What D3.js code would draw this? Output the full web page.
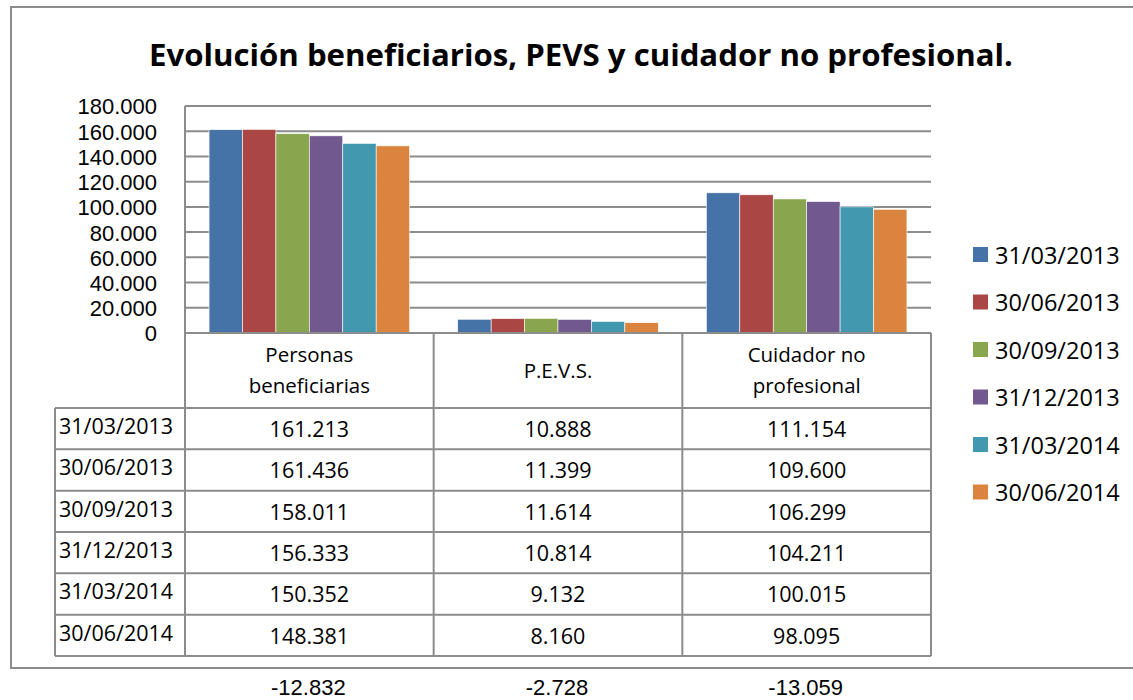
<!DOCTYPE html>
<html><head><meta charset="utf-8">
<script src="https://cdn.jsdelivr.net/npm/d3@7"></script>
<style>body{margin:0;background:#fff;} svg{display:block;font-family:"Open Sans",sans-serif;}</style>
</head><body><svg id="c" width="1133" height="700"></svg>
<script>
const title = "Evolución beneficiarios, PEVS y cuidador no profesional.";
const categories = ["Personas beneficiarias", "P.E.V.S.", "Cuidador no profesional"];
const categoryLines = [["Personas", "beneficiarias"], ["P.E.V.S."], ["Cuidador no", "profesional"]];
const seriesNames = ["31/03/2013", "30/06/2013", "30/09/2013", "31/12/2013", "31/03/2014", "30/06/2014"];
const s1 = [161213, 10888, 111154];
const s2 = [161436, 11399, 109600];
const s3 = [158011, 11614, 106299];
const s4 = [156333, 10814, 104211];
const s5 = [150352, 9132, 100015];
const s6 = [148381, 8160, 98095];
const seriesValues = [s1, s2, s3, s4, s5, s6];
const differences = [-12832, -2728, -13059];
const yTicks = [0, 20000, 40000, 60000, 80000, 100000, 120000, 140000, 160000, 180000];
const colors = ["#4572A7", "#AA4643", "#89A54E", "#71588F", "#4198AF", "#DB843D"];

(function () {
const loc = d3.formatLocale({decimal: ",", thousands: ".", grouping: [3], currency: ["", ""], minus: "-"});
const fmt = loc.format(",d");

const svg = d3.select("#c");
const grid = "#8c8c8c";

svg.append("rect").attr("x", 11).attr("y", 7).attr("width", 1140).attr("height", 661)
  .attr("fill", "#fff").attr("stroke", grid).attr("stroke-width", 2);

svg.append("text").attr("x", 581).attr("y", 66).attr("text-anchor", "middle")
  .attr("font-size", 30).attr("font-weight", "bold").attr("fill", "#000")
  .attr("textLength", 864).attr("lengthAdjust", "spacingAndGlyphs").text(title);

const pL = 185, pR = 931, pT = 106, pB = 333;
const y = d3.scaleLinear().domain([0, 180000]).range([pB, pT]);
const x0 = d3.scaleBand().domain(categories).range([pL, pR]).paddingInner(0).paddingOuter(0);
const x1 = d3.scaleBand().domain(seriesNames).range([0, x0.bandwidth()]).paddingOuter(0.72).paddingInner(0);

svg.append("g").selectAll("line").data(yTicks.filter(d => d > 0)).join("line")
  .attr("x1", pL).attr("x2", pR).attr("y1", d => y(d)).attr("y2", d => y(d))
  .attr("stroke", grid).attr("stroke-width", 2);
svg.append("line").attr("x1", pL).attr("x2", pL).attr("y1", pT).attr("y2", pB)
  .attr("stroke", grid).attr("stroke-width", 2);

const yAxis = d3.axisLeft(y).tickValues(yTicks).tickFormat(d => fmt(d)).tickSize(0).tickPadding(0);
const ga = svg.append("g").attr("transform", "translate(157,0)").call(yAxis);
ga.select(".domain").remove();
ga.selectAll("text").attr("font-size", 22).attr("fill", "#000")
  .attr("font-family", "'Liberation Sans', sans-serif").attr("dy", "0.36em");

const gBars = svg.append("g");
categories.forEach((c, ci) => {
  seriesNames.forEach((s, si) => {
    const v = seriesValues[si][ci];
    gBars.append("rect")
      .attr("x", x0(c) + x1(s)).attr("width", x1.bandwidth())
      .attr("y", y(v)).attr("height", y(0) - y(v))
      .attr("fill", colors[si]).attr("stroke", "#fff").attr("stroke-width", 0.6);
  });
});

const tableLeft = 55, headBottom = 408, rowH = 41.33;
const rows = seriesNames.length;
const tBottom = headBottom + rows * rowH;
const tg = svg.append("g");
tg.append("line").attr("x1", pL).attr("x2", pR).attr("y1", pB).attr("y2", pB).attr("stroke", grid).attr("stroke-width", 2);
[pL, ...categories.map(c => x0(c) + x0.bandwidth())].forEach(xv => {
  tg.append("line").attr("x1", xv).attr("x2", xv).attr("y1", pB).attr("y2", tBottom).attr("stroke", grid).attr("stroke-width", 2);
});
tg.append("line").attr("x1", tableLeft).attr("x2", tableLeft).attr("y1", headBottom).attr("y2", tBottom).attr("stroke", grid).attr("stroke-width", 2);
for (let r = 0; r <= rows; r++) {
  const yy = headBottom + r * rowH;
  tg.append("line").attr("x1", tableLeft).attr("x2", pR).attr("y1", yy).attr("y2", yy).attr("stroke", grid).attr("stroke-width", 2);
}
categories.forEach((c, ci) => {
  const lines = categoryLines[ci];
  const cx = x0(c) + x0.bandwidth() / 2;
  const mid = (pB + headBottom) / 2;
  lines.forEach((ln, li) => {
    tg.append("text").attr("x", cx).attr("y", mid + (li - (lines.length - 1) / 2) * 31 + 7)
      .attr("text-anchor", "middle").attr("font-size", 20.5).attr("fill", "#000").text(ln);
  });
});
seriesNames.forEach((s, si) => {
  const yy = headBottom + si * rowH;
  tg.append("text").attr("x", 59).attr("y", yy + 26).attr("font-size", 21.5).attr("fill", "#000").text(s);
  categories.forEach((c, ci) => {
    tg.append("text").attr("x", x0(c) + x0.bandwidth() / 2).attr("y", yy + 29)
      .attr("text-anchor", "middle").attr("font-size", 21.5).attr("fill", "#000").text(fmt(seriesValues[si][ci]));
  });
});

const lg = svg.append("g");
seriesNames.forEach((s, si) => {
  const yy = 255 + si * 47.5;
  lg.append("rect").attr("x", 973).attr("y", yy - 8).attr("width", 15).attr("height", 15).attr("fill", colors[si]);
  lg.append("text").attr("x", 995).attr("y", yy + 8.5).attr("font-size", 23.5).attr("fill", "#000").text(s);
});

categories.forEach((c, ci) => {
  svg.append("text").attr("x", x0(c) + x0.bandwidth() / 2 - 1).attr("y", 695).attr("text-anchor", "middle")
    .attr("font-family", "'Liberation Sans', sans-serif")
    .attr("font-size", 22).attr("fill", "#000").text(fmt(differences[ci]));
});
})();
</script></body></html>
